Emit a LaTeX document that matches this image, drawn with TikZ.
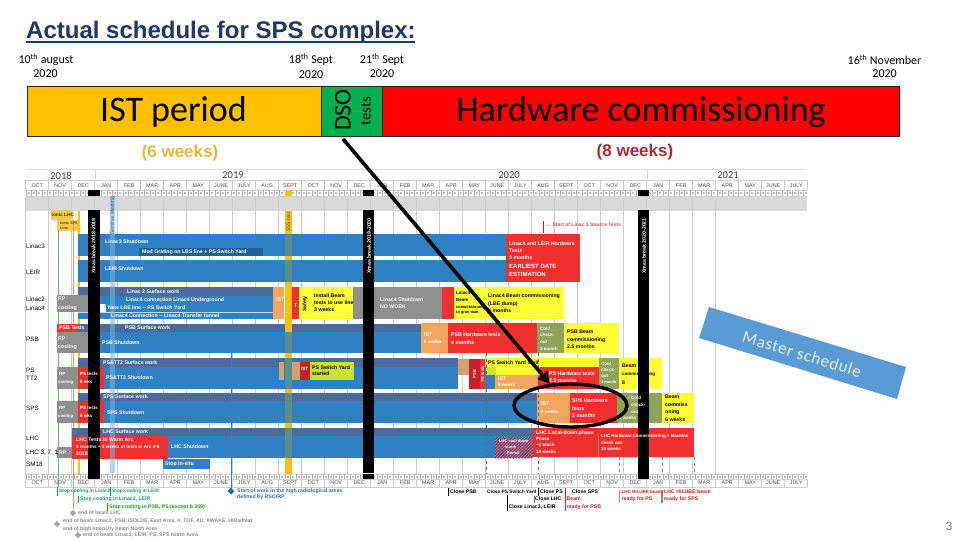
\documentclass[tikz,border=0pt]{standalone}
\usepackage{fontspec}
\setmainfont{Carlito}
\newfontfamily\arial{Liberation Sans}
\usetikzlibrary{arrows.meta,patterns,calc}
\definecolor{mainblue}{HTML}{2E82C4}
\definecolor{darkblue}{HTML}{4A6B9C}
\definecolor{gbarred}{HTML}{F0302F}
\definecolor{dkred}{HTML}{C8202A}
\definecolor{gbaryel}{HTML}{FFFF33}
\definecolor{limeyel}{HTML}{D2E02F}
\definecolor{gbargray}{HTML}{8F8F8F}
\definecolor{ist}{HTML}{F4A55F}
\definecolor{tanbox}{HTML}{D6A06E}
\definecolor{olive}{HTML}{8FA35C}
\definecolor{gold}{HTML}{FBBF14}
\definecolor{hdrgold}{HTML}{FFC000}
\definecolor{teal}{HTML}{5C8F8C}
\definecolor{titleblue}{HTML}{1F3864}
\definecolor{masterblue}{HTML}{5B9BD5}
\definecolor{green1}{HTML}{12A060}
\definecolor{weekred}{HTML}{B02A30}
\newcount\nodeno
\newcommand{\gbox}[5]{\fill[#5] (#1,#2) rectangle (#3,#4);}
% x y colour text : left aligned small label
\newcommand{\gtxt}[4]{\global\advance\nodeno by 1
  \node[gtext,text=#3] (t\the\nodeno) at (#1,#2) {#4};}
\newcommand{\rowlab}[2]{\global\advance\nodeno by 1
  \node[gtext,text=black,font=\arial\fontsize{6.3}{7}\selectfont] (t\the\nodeno) at (26,#1) {#2};}
\newcommand{\tinyf}{\fontsize{4.5}{5}\selectfont}
\tikzset{
  gtext/.style={anchor=west,inner sep=0pt,font=\arial\bfseries\fontsize{5.2}{6}\selectfont},
  datelab/.style={anchor=center,inner sep=0pt,text=black,font=\fontsize{12}{13}\selectfont},
  hdrbox/.style={draw=black!85,line width=0.8pt},
  bigtxt/.style={anchor=center,inner sep=0pt,text=black,font=\fontsize{36}{36}\selectfont},
  xmasbar/.style={fill=black},
  xmastxt/.style={anchor=center,rotate=90,inner sep=0pt,text=white,font=\arial\bfseries\fontsize{5.2}{6}\selectfont},
  ms/.style={line width=0.7pt},
}
\begin{document}
\begin{tikzpicture}[x=1pt,y=-1pt]
\useasboundingbox (0,0) rectangle (960,540);
\fill[white] (0,0) rectangle (960,540);

% ---- title
\node[anchor=base west,inner sep=0pt,text=titleblue,font=\arial\bfseries\fontsize{24}{26}\selectfont] (title) at (26,38.5) {Actual schedule for SPS complex:};
\draw[titleblue,line width=1.6pt] (26,42.3) -- (415,42.3);

% ---- date labels
\node[datelab] (d1) at (46,60) {10\textsuperscript{th} august};
\node[datelab] (d1b) at (45.5,73.5) {2020};
\node[datelab] (d2) at (311,60) {18\textsuperscript{th} Sept};
\node[datelab] (d2b) at (311,75) {2020};
\node[datelab] (d3) at (382,60) {21\textsuperscript{th} Sept};
\node[datelab] (d3b) at (382,74) {2020};
\node[datelab,anchor=east] (d4) at (921.5,60) {16\textsuperscript{th} November};
\node[datelab,anchor=east] (d4b) at (897,73.5) {2020};

% ---- header bar
\draw[hdrbox,fill=hdrgold] (27,86) rectangle (321,136);
\draw[hdrbox,fill={rgb,255:red,0;green,176;blue,80}] (321,86) rectangle (382,136);
\draw[hdrbox,fill=red] (382,86) rectangle (899.5,136);
\node[bigtxt] (ist) at (173.5,112) {IST period};
\node[bigtxt] (hw) at (641,112) {Hardware commissioning};
\node[anchor=center,rotate=90,inner sep=0pt,text=black,font=\fontsize{24}{24}\selectfont] (dso) at (343,110) {DSO};
\node[anchor=center,rotate=90,inner sep=0pt,text=black,font=\fontsize{15}{15}\selectfont] (tests) at (366,111) {tests};
\node[anchor=center,inner sep=0pt,text={rgb,255:red,230;green,185;blue,60},font=\arial\bfseries\fontsize{17}{18}\selectfont] (w6) at (180,153) {(6 weeks)};
\node[anchor=center,inner sep=0pt,text=weekred,font=\arial\bfseries\fontsize{17}{18}\selectfont] (w8) at (635,152) {(8 weeks)};

% ---- gantt frame
\draw[black!12,line width=0.5pt] (25,169) -- (807,169);
\gbox{25}{196}{807}{211}{black!15}
\foreach \i in {0,...,30}{\draw[black!20,line width=0.7pt] ({25.7+23*\i},196) -- ({25.7+23*\i},474);}
\foreach \yy in {180,190,196}{\draw[black!18,line width=0.4pt] (25,\yy) -- (807,\yy);}
\foreach \yy in {474,479,487}{\draw[black!18,line width=0.4pt] (25,\yy) -- (807,\yy);}
\foreach \i in {0,...,34}{
  \draw[black!20,line width=0.5pt] ({25.7+23*\i},180) -- ({25.7+23*\i},190);
  \draw[black!20,line width=0.5pt] ({25.7+23*\i},479) -- ({25.7+23*\i},487);
}
\foreach \xx in {95,371,647}{\draw[black!15,line width=0.5pt] (\xx,169) -- (\xx,180);}
\foreach \i in {0,...,144}{
  \draw[black!30,line width=0.3pt] ({25.7+5.4*\i},190) -- ({25.7+5.4*\i},195.5);
  \draw[black!30,line width=0.3pt] ({25.7+5.4*\i},474) -- ({25.7+5.4*\i},479);
  \fill[black!25] ({27.5+5.4*\i},191.5) rectangle ({29.5+5.4*\i},194);
  \fill[black!25] ({27.5+5.4*\i},475.5) rectangle ({29.5+5.4*\i},478);
}
\node[anchor=center,inner sep=0pt,text=black!75,font=\fontsize{10.5}{11}\selectfont] (y18) at (61,175.5) {2018};
\node[anchor=center,inner sep=0pt,text=black!75,font=\fontsize{10.5}{11}\selectfont] (y19) at (233,175.5) {2019};
\node[anchor=center,inner sep=0pt,text=black!75,font=\fontsize{10.5}{11}\selectfont] (y20) at (509,175.5) {2020};
\node[anchor=center,inner sep=0pt,text=black!75,font=\fontsize{10.5}{11}\selectfont] (y21) at (728,175.5) {2021};
\foreach \lab [count=\i from 0] in {OCT,NOV,DEC,JAN,FEB,MAR,APR,MAY,JUNE,JULY,AUG,SEPT,OCT,NOV,DEC,JAN,FEB,MAR,APR,MAY,JUNE,JULY,AUG,SEPT,OCT,NOV,DEC,JAN,FEB,MAR,APR,MAY,JUNE,JULY}{
  \node[anchor=center,inner sep=0pt,text=black!70,font=\arial\fontsize{5.4}{6}\selectfont] (mt\i) at ({37.2+23*\i},185.5) {\lab};
  \node[anchor=center,inner sep=0pt,text=black!70,font=\arial\fontsize{5.4}{6}\selectfont] (mb\i) at ({37.2+23*\i},483) {\lab};
}

% ---- top-left gold boxes and thin lines
\gbox{51}{210}{73}{220}{gold!80}
\gbox{57}{220}{79}{231}{gold!80}
\draw[green!55!black!60,line width=0.7pt] (58.3,231) -- (58.3,487);
\draw[tanbox,line width=0.7pt] (73.3,220) -- (73.3,509);
\draw[gold,line width=1.6pt] (79,211) -- (79,475);
\gtxt{51.5}{215}{black!80}{\fontsize{4.8}{5}\selectfont Ionic LHC}
\gtxt{60}{223.5}{black!70}{\fontsize{3.8}{4}\selectfont Ionic SPS}
\gtxt{60}{228}{black!70}{\fontsize{3.8}{4}\selectfont Ions}

% ---- Linac3 + LEIR
\gbox{78}{234}{506}{256}{mainblue}
\gbox{78}{260}{506}{282}{mainblue}
\gbox{139}{248}{263}{256}{mainblue!75!black}

% ---- Linac2/4
\gbox{78}{287}{273}{296}{darkblue}
\gbox{78}{296}{273}{319}{mainblue}
\draw[white!70!mainblue,line width=0.4pt] (78,312) -- (273,312);
\gbox{57}{295}{88}{312}{gbargray}
\gbox{100}{304}{106}{312}{white}
\gbox{273}{287}{284}{319}{ist}
\gbox{292}{287}{299}{319}{gbarred}
\gbox{299}{287}{353}{319}{gbaryel}
\gbox{353}{287}{442}{319}{gbargray}
\gbox{442}{287}{454}{319}{gbarred}
\gbox{454}{287}{564}{319}{gbaryel}
\gbox{506}{234}{580}{282}{gbarred}

% ---- PSB
\gbox{57}{324}{88}{332}{gbarred}
\gbox{57}{332}{88}{353}{gbargray}
\gbox{78}{324}{421}{332}{darkblue}
\gbox{88}{332}{421}{353}{mainblue}
\gbox{421}{323}{448}{353}{ist}
\gbox{448}{323}{537}{353}{gbarred}
\gbox{537}{323}{564}{353}{olive}
\gbox{564}{323}{619}{353}{gbaryel}

% ---- PS
\gbox{78}{358}{458}{367}{darkblue}
\gbox{78}{367}{458}{389}{mainblue}
\gbox{57}{367}{78}{389}{gbargray}
\gbox{78}{367}{104}{389}{gbarred}
\gbox{279}{362}{284}{380}{tanbox}
\gbox{292}{362}{300}{380}{tanbox}
\gbox{300}{362}{310}{380}{dkred}
\gbox{310}{362}{354}{380}{limeyel}
\gbox{458}{359}{469}{375}{tanbox}
\gbox{469}{359}{480}{389}{dkred}
\gbox{480}{359}{485}{389}{gbarred}
\gbox{485}{367}{495}{389}{mainblue}
\gbox{486}{358}{599}{367}{gbaryel}
\gbox{486}{367}{496}{375}{limeyel}
\gbox{496}{367}{540}{375}{gbaryel}
\gbox{495}{375}{538}{389}{ist}
\gbox{540}{367}{599}{375}{gbarred}
\gbox{538}{375}{599}{389}{gbarred}
\gbox{599}{358}{619}{389}{olive}
\gbox{619}{358}{662}{389}{gbaryel}

% ---- SPS
\gbox{78}{393}{537}{401}{darkblue}
\gbox{104}{401}{537}{423}{mainblue}
\gbox{57}{401}{78}{423}{gbargray}
\gbox{78}{401}{104}{423}{gbarred}
\gbox{537}{393}{570}{423}{ist}
\gbox{570}{393}{617}{423}{gbarred}
\gbox{617}{393}{662}{423}{olive}
\gbox{662}{393}{694}{423}{gbaryel}

% ---- LHC
\gbox{72}{428}{533}{436}{darkblue}
\gbox{168}{436}{533}{458}{mainblue}
\gbox{72}{436}{168}{459}{gbarred}
\gbox{57}{447}{72}{458}{gbargray}
\gbox{163}{459}{210}{469}{mainblue}
\gbox{495}{437}{533}{458}{darkblue!70!purple}
\fill[pattern=north east lines,pattern color=gbarred!70] (495,437) rectangle (533,458);
\gbox{533}{428}{694}{457}{gbarred}
\draw[white!40!gbarred,line width=0.4pt] (598,436) -- (598,457);

% ---- gold and light-blue vertical stripes
\fill[gold] (285,211) rectangle (292,474);
\foreach \ya/\yb in {234/256,260/282,332/353,358/389,393/423,428/458}{\fill[teal] (285,\ya) rectangle (292,\yb);}
\fill[gold] (285,190) rectangle (292,196);
\fill[mainblue!60!white,opacity=0.55] (110,196) rectangle (115,473);

% ---- dashed verticals
\draw[black!60,dashed,line width=0.4pt] (486,353) -- (486,474);
\draw[black!60,dashed,line width=0.4pt] (538,353) -- (538,474);
\draw[black!50,dashed,line width=0.4pt] (619,457) -- (619,474);
\draw[black!50,dashed,line width=0.4pt] (662,457) -- (662,474);
\draw[black!50,dashed,line width=0.4pt] (694,457) -- (694,474);
\draw[mainblue,line width=0.5pt] (231,350) -- (231,491);

% ---- xmas bars
\fill[xmasbar] (88,210) rectangle (100,474);
\fill[xmasbar] (363,210) rectangle (374,473);
\fill[xmasbar] (638,210) rectangle (649,479);
\foreach \xa/\xb in {88/100,363/374,638/649}{
  \fill[black] (\xa,190) rectangle (\xb,196);
  \fill[black] (\xa,474) rectangle (\xb,479);
}
\node[xmastxt] (x1) at (93.5,246) {Xmas break 2018-2019};
\node[xmastxt] (x2) at (369,246) {Xmas break 2019-2020};
\node[xmastxt] (x3) at (644,246) {Xmas break 2020-2021};
\node[anchor=center,rotate=90,inner sep=0pt,text=mainblue!70!black,font=\arial\fontsize{5}{6}\selectfont] (sem) at (112.5,216) {Seminar Meeting};
\node[anchor=center,rotate=90,inner sep=0pt,text=black!70,font=\arial\fontsize{5}{6}\selectfont] (ssem) at (288.5,222) {SSS test};

% ---- row labels
\rowlab{246}{Linac3}
\rowlab{272}{LEIR}
\rowlab{299}{Linac2}
\rowlab{308}{Linac4}
\rowlab{339}{PSB}
\rowlab{370}{PS}
\rowlab{378}{TT2}
\rowlab{408}{SPS}
\rowlab{438}{LHC}
\rowlab{453}{LHC 3, 7, 1}
\rowlab{464}{SM18}

% ---- bar labels
\gtxt{105}{242}{white}{Linac3 Shutdown}
\gtxt{142}{252}{white}{Mod Grating on LBS line + PS Switch Yard}
\gtxt{105}{269}{white}{LEIR Shutdown}
\gtxt{127}{291.5}{white}{Linac 2 Surface work}
\gtxt{126}{300}{white}{Linac4 connection   Linac4 Underground}
\gtxt{108}{308}{white}{New LBE line -- PS Switch Yard}
\gtxt{111}{316}{white}{Linac4 Connection -- Linac4 Transfer tunnel}
\gtxt{58}{299}{white}{RP}
\gtxt{58}{308}{white}{cooling}
\gtxt{276}{300}{white}{IST}
\gtxt{294}{306}{white}{T}
\node[anchor=center,rotate=90,inner sep=0pt,text=black,font=\arial\bfseries\fontsize{5.2}{6}\selectfont] (saf) at (305,304) {Safety};
\gtxt{314}{296}{black}{Install Beam}
\gtxt{314}{303}{black}{tests to use line}
\gtxt{314}{310}{black}{3 weeks}
\gtxt{380}{300}{white}{Linac4 Shutdown}
\gtxt{380}{307}{white}{NO WORK}
\gtxt{456}{293}{black}{\tinyf Linac4}
\gtxt{456}{300}{black}{\tinyf Beam}
\gtxt{456}{307}{black}{\fontsize{3.9}{4}\selectfont commissioning}
\gtxt{456}{313}{black}{\fontsize{3.9}{4}\selectfont to gran man}
\gtxt{488}{296}{black}{Linac4 Beam commissioning}
\gtxt{488}{304}{black}{(LBE dump)}
\gtxt{488}{311}{black}{4 months}
\gtxt{509}{244}{white}{Linac4 and LEIR Hardware}
\gtxt{509}{251}{white}{Tests}
\gtxt{509}{258}{white}{3 months}
\gtxt{509}{266}{white}{\fontsize{6}{7}\selectfont EARLIEST DATE}
\gtxt{509}{274}{white}{\fontsize{6}{7}\selectfont ESTIMATION}
\draw[dkred,line width=0.6pt] (543,221) -- (543,233);
\gtxt{546}{225}{dkred!80!white}{\fontsize{5}{6}\selectfont\ldots\ Start of Linac 3 Source Tests}

\gtxt{59}{328}{white}{PSB Tests}
\gtxt{58}{339}{white}{RP}
\gtxt{58}{347}{white}{cooling}
\gtxt{125}{328}{white}{PSB Surface work}
\gtxt{102}{343}{white}{PSB Shutdown}
\gtxt{424}{335}{white}{IST}
\gtxt{424}{342}{white}{\tinyf 6 weeks}
\gtxt{451}{335}{white}{PSB Hardware tests}
\gtxt{451}{343}{white}{4 months}
\gtxt{540}{329}{white}{\tinyf Cold}
\gtxt{540}{335}{white}{\tinyf check-}
\gtxt{540}{342}{white}{\tinyf out}
\gtxt{540}{349}{white}{\tinyf 1 month}
\gtxt{567}{332}{black}{PSB Beam}
\gtxt{567}{340}{black}{commissioning}
\gtxt{567}{347}{black}{2.5 months}

\gtxt{103}{363}{white}{PS\&TT2 Surface work}
\gtxt{106}{378}{white}{PS\&TT2 Shutdown}
\gtxt{59}{374}{white}{\tinyf RP}
\gtxt{58}{382}{white}{\fontsize{4.2}{5}\selectfont cooling}
\gtxt{80}{374}{white}{\tinyf PS tests}
\gtxt{80}{382}{white}{\tinyf 5 wks}
\gtxt{301}{369}{white}{\tinyf IST}
\gtxt{312}{368}{black}{PS Switch Yard}
\gtxt{312}{374}{black}{started}
\node[anchor=center,rotate=90,inner sep=0pt,text=white,font=\arial\bfseries\fontsize{4}{5}\selectfont] (pr1) at (474.5,374) {PSB};
\node[anchor=center,rotate=90,inner sep=0pt,text=white,font=\arial\bfseries\fontsize{4}{5}\selectfont] (pr2) at (482.5,374) {PS tests};
\gtxt{488}{362.5}{black}{PS Switch Yard Civil}
\gtxt{498}{379}{white}{IST}
\gtxt{498}{385}{white}{\tinyf 6 weeks}
\gtxt{549}{374}{white}{PS Hardware tests}
\gtxt{549}{381}{white}{3.5 months}
\gtxt{601}{364}{white}{\tinyf Cool}
\gtxt{601}{370}{white}{\tinyf check-}
\gtxt{601}{376}{white}{\tinyf out}
\gtxt{601}{382}{white}{\fontsize{3.9}{4}\selectfont 1 month}
\gtxt{622}{366}{black}{Beam}
\gtxt{622}{374}{black}{\tinyf commissioning}
\gtxt{622}{383}{black}{8}

\gtxt{103}{397}{white}{SPS Surface work}
\gtxt{107}{413}{white}{SPS Shutdown}
\gtxt{59}{408}{white}{\tinyf RP}
\gtxt{58}{416}{white}{\fontsize{4.2}{5}\selectfont cooling}
\gtxt{80}{408}{white}{\tinyf PS tests}
\gtxt{80}{416}{white}{\tinyf 5 wks}
\gtxt{541}{404}{white}{IST}
\gtxt{541}{412}{white}{\tinyf 6 weeks}
\gtxt{572}{401}{white}{SPS Hardware}
\gtxt{572}{409}{white}{tests}
\gtxt{572}{416}{white}{2 months}
\gtxt{631}{398}{white}{\tinyf Cold}
\gtxt{631}{405}{white}{\tinyf check-}
\gtxt{631}{412}{white}{\tinyf out}
\gtxt{619}{418}{white}{\tinyf 4 weeks}
\gtxt{665}{397}{black}{Beam}
\gtxt{665}{405}{black}{commiss}
\gtxt{665}{412}{black}{oning}
\gtxt{665}{420}{black}{6 weeks}

\gtxt{103}{432}{white}{LHC Surface work}
\gtxt{76}{440}{white}{LHC Tests in Warm Arc}
\gtxt{76}{447}{white}{\fontsize{4.6}{5}\selectfont 3 months + 3 weeks of tests in Arc 4-5}
\gtxt{76}{454}{white}{2018}
\gtxt{59}{453}{white}{RP}
\gtxt{171}{447}{white}{LHC Shutdown}
\gtxt{165}{464}{white}{Stop in-situ}
\gtxt{499}{441}{white}{\fontsize{4}{5}\selectfont LHC cool down}
\gtxt{505}{447}{white}{\fontsize{4}{5}\selectfont starts}
\gtxt{507}{453}{white}{\fontsize{4}{5}\selectfont Period}
\gtxt{536}{433}{white}{LHC Local-down phase}
\gtxt{536}{439}{white}{\tinyf Phase}
\gtxt{536}{445}{white}{\tinyf \~{}1 block}
\gtxt{536}{452}{white}{\tinyf 14 weeks}
\gtxt{601}{436}{white}{\fontsize{4.4}{5}\selectfont LHC Hardware Commissioning + Machine}
\gtxt{601}{442.5}{white}{\tinyf check out}
\gtxt{601}{449}{white}{\tinyf 10 weeks}

% ---- milestones (left)
\draw[green1,ms] (57,487) -- (57,496);
\gtxt{59}{491}{green1}{\fontsize{4.8}{5}\selectfont Stop cooling in Linac2}
\draw[green1,ms] (110,487) -- (110,496);
\gtxt{112}{491}{green1}{\fontsize{4.8}{5}\selectfont Stop cooling in LEIR}
\draw[green1,ms] (78,496) -- (78,503);
\gtxt{80}{499.5}{green1}{Stop cooling in Linac3, LEIR}
\draw[green!70!black,ms] (107,503) -- (107,511);
\gtxt{109}{507}{green!70!black}{Stop cooling in PSB, PS (except b 359)}
\foreach \mx/\my in {73/513,57/524,78/535}{
  \fill[black!35] (\mx-3.2,\my) -- (\mx,\my-3.2) -- (\mx+3.2,\my) -- (\mx,\my+3.2) -- cycle;
}
\gtxt{78}{513}{black!45}{end of beam LHC}
\gtxt{63}{521}{black!45}{end of beam Linac2, PSB, ISOLDE, East Area, n\_TOF, AD, AWAKE, HiRadMat}
\gtxt{63}{529}{black!45}{end of high intensity beam North Area}
\gtxt{83}{535}{black!45}{end of beam Linac3, LEIR, PS, SPS North Area}
\fill[mainblue!85!black] (231-3.5,491) -- (231,491-3.5) -- (231+3.5,491) -- (231,491+3.5) -- cycle;
\gtxt{237}{491}{mainblue!85!black}{Start of work in the high radiological areas}
\gtxt{237}{497}{mainblue!85!black}{defined by RSO/RP}

% ---- milestones (right)
\draw[black,ms] (448,488) -- (448,496);
\gtxt{450}{492}{black}{Close PSB}
\gtxt{487}{492}{black}{\fontsize{4.8}{5}\selectfont Close PS Switch Yard}
\draw[black,ms] (538,488) -- (538,496);
\gtxt{540}{492}{black}{Close PS}
\draw[black!60,ms] (534,496) -- (534,503);
\gtxt{535}{499}{black}{Close LHC}
\draw[black,ms] (507,495) -- (507,511);
\gtxt{508.5}{507}{black}{Close Linac3, LEIR}
\draw[dkred,ms] (565,488) -- (565,511);
\gtxt{572}{492}{black}{Close SPS}
\gtxt{566.5}{499}{dkred}{Beam}
\gtxt{566.5}{507}{dkred}{ready for PSB}
\draw[dkred!60,ms] (619,490) -- (619,503);
\gtxt{621.5}{492}{dkred}{\tinyf LHC HiLUBE beam}
\gtxt{621.5}{499}{dkred}{ready for PS}
\draw[dkred!70,line width=1.2pt] (662,490) -- (662,503);
\gtxt{664}{492}{dkred}{LHC HiLUBE beam}
\gtxt{664}{499}{dkred}{ready for SPS}

% ---- arrow and ellipse
\coordinate (arrowstart) at (343,139);
\coordinate (arrowend) at (550,384);
\draw[black,line width=3.6pt,-{Triangle[length=12pt,width=12pt]}] (arrowstart) -- (arrowend);
\draw[black,line width=3.4pt] (570.5,405.5) ellipse [x radius=56.5pt,y radius=21.5pt];

% ---- master schedule
\fill[masterblue] (709,307) -- (906,367) -- (897,399) -- (699,338) -- cycle;
\node[anchor=center,rotate=-17,inner sep=0pt,text={rgb,255:red,225;green,240;blue,250},font=\fontsize{17}{17}\selectfont] (master) at (802,354) {\addfontfeature{LetterSpace=4}Master schedule};

% ---- page number
\node[anchor=center,inner sep=0pt,text=black!55,font=\fontsize{13}{13}\selectfont] (page) at (949,526) {3};
\end{tikzpicture}
\end{document}
